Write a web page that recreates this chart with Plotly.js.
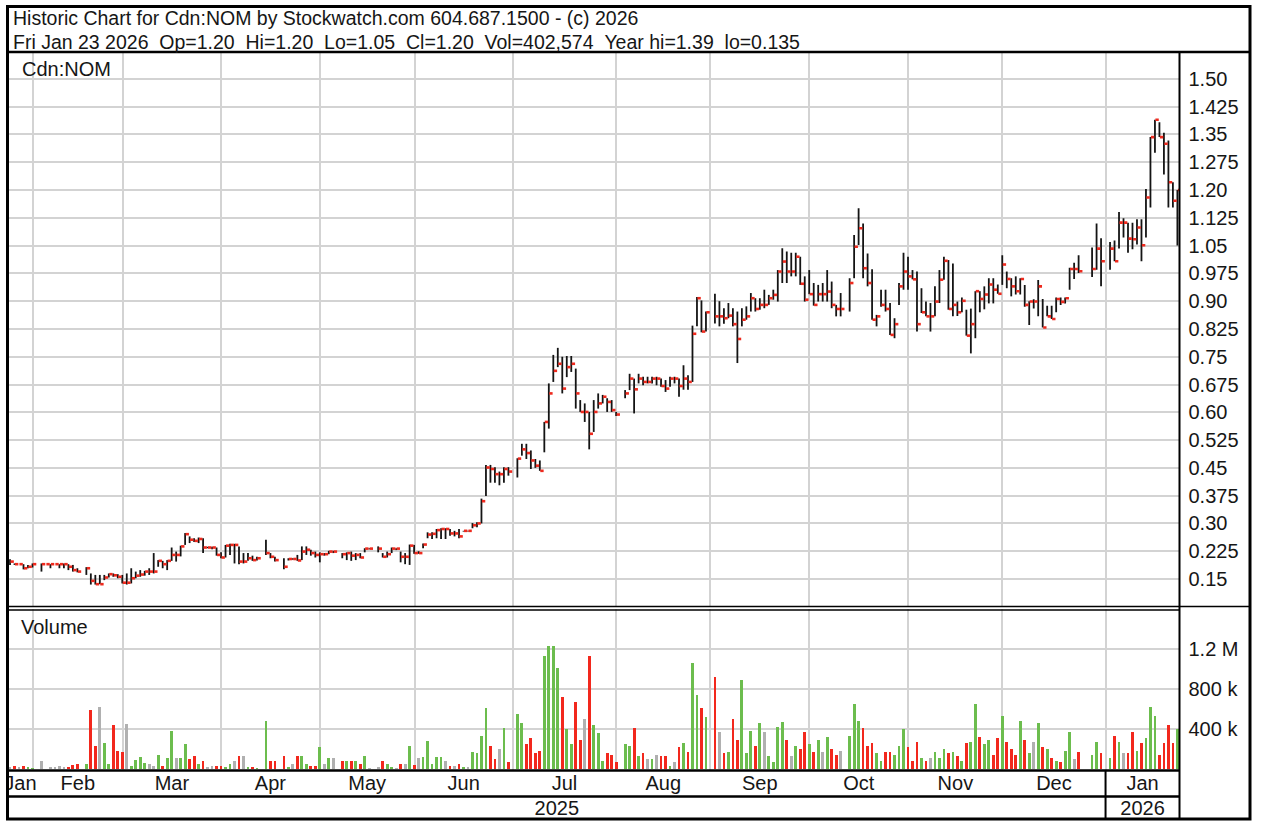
<!DOCTYPE html>
<html><head><meta charset="utf-8">
<script src="https://cdn.plot.ly/plotly-3.0.1.min.js"></script>
<style>html,body{margin:0;padding:0;background:#fff;}#chart{width:1262px;height:824px;}</style>
</head><body><div id="chart"></div>
<script>
// ---------------- data ----------------
const headerLine1 = "Historic Chart for Cdn:NOM by Stockwatch.com 604.687.1500 - (c) 2026";
const headerLine2 = "Fri Jan 23 2026  Op=1.20  Hi=1.20  Lo=1.05  Cl=1.20  Vol=402,574  Year hi=1.39  lo=0.135";
const symbolLabel = "Cdn:NOM";
const volumeLabel = "Volume";
const firstDay = "2025-01-24";
const lastDay = "2026-01-23";
const monthNames = ["Jan","Feb","Mar","Apr","May","Jun","Jul","Aug","Sep","Oct","Nov","Dec"];
const priceTicks = [0.15,0.225,0.30,0.375,0.45,0.525,0.60,0.675,0.75,0.825,0.90,0.975,1.05,1.125,1.20,1.275,1.35,1.425,1.50];
const priceTickText = ["0.15","0.225","0.30","0.375","0.45","0.525","0.60","0.675","0.75","0.825","0.90","0.975","1.05","1.125","1.20","1.275","1.35","1.425","1.50"];
const volTicks = [400000,800000,1200000];
const volTickText = ["400 k","800 k","1.2 M"];

// one entry per weekday (Jan 24 2025 .. Jan 23 2026); null = no trade / holiday
const high = [
 .203,.192,.19,.19,.188,.192,
 null,.192,.19,.19,.19,.19,.192,.19,.188,.179, null,.182,.165,.161,.161,.161,.165,.165,.163,.161,
 .165,.179,.17,.174,.172,.179,.22,.201,.199,.201, .235,.224,.24,.274,.265,.26,.262,.26,.237,.237, .235,
 .222,.242,.245,.245,.238,.22,.22,.213,.21,null, .256,.22,.21,null,.206,.206,.206,.215,.238,.238, .229,.224,
 .222,.22,.226,.226,null,.22,.222,.224,.22,.22, .233,.233,null,.238,.22,.224,.235,.233,.224,.22, .243,.242,
 .225,.246,.276,.276,.285,.287,.287,.285,.28,.285, .28,.28,.301,.303,.367,.458,.458,.452,.44,.452, .452,
 null,.476,.515,.515,.497,.474,.47,.574,.678,.755, .774,.75,.752,.752,.718,.633,.624,.601,.633,.651, .647,.638,.633,
 .601,null,.66,.704,.691,.704,.696,.696,.696,.696, .691,.687,.696,.696,.691,.727,.70,.834,.911,.902, .872,
 null,.92,.90,.881,.895,.881,.872,.881,.886,.922, .908,.908,.931,.917,.931,.984,1.043,1.034,1.031,1.031, 1.02,.967,
 .984,.949,.944,.949,.984,.953,.89,.922,null,.962, 1.079,1.151,1.11,1.029,.986,.863,.931,.931,.895,.854, .949,1.031,1.02,
 .984,.98,.935,.899,.895,.94,.984,1.02,1.011,1.002, .899,.91,.877,.88,.927,.927,.94,.962,.962,.945,
 1.024,.98,.962,.967,.962,.944,.90,.905,.957,.906, .888,.888,.91,.91,.91,.99,1.004,1.024,null,null, 1.045,1.11,1.07,
 null,1.06,1.064,1.141,1.124,1.112,1.112,1.121,1.121,1.203, 1.343,1.39,1.383,1.355,1.334,1.221,1.20
];
const low = [
 .188,.188,.19,.176,.179,.181,
 null,.17,.19,.179,.19,.179,.179,.174,.17,.168, null,.161,.135,.135,.136,.147,.154,.156,.152,.138,
 .135,.138,.152,.156,.159,.161,.165,.183,.179,.174, .199,.197,.211,.242,.247,.25,.247,.22,.233,.23, .213,
 .206,.208,.215,.192,.19,.192,.199,.199,.2,null, .215,.206,.197,null,.176,.2,.202,.199,.201,.215, .213,.208,
 .195,.213,.217,.22,null,.206,.201,.199,.201,.206, .222,.23,null,.222,.208,.208,.22,.228,.195,.19, .188,.218,
 .218,.233,.26,.258,.26,.258,.258,.267,.265,.26, .278,.278,.287,.29,.30,.374,.41,.41,.403,.41, .429,
 null,.424,.483,.474,.447,.45,.442,.492,.556,.682, .722,.651,.695,.709,.61,.601,.574,.50,.547,.61, .624,.601,.601,
 .59,null,.638,.66,.597,.678,.673,.678,.678,.673, .669,.655,.669,.678,.642,.661,.661,.682,.832,.816, .818,
 null,.84,.832,.839,.854,.832,.733,.832,.85,.872, .872,.877,.881,.89,.904,.899,.949,.949,.967,.967, .944,.899,
 .919,.888,.899,.899,.899,.881,.859,.859,null,.872, .962,1.052,.962,.94,.85,.832,.885,.872,.809,.80, .89,.931,.931,
 .959,.818,.868,.859,.818,.859,.895,.958,.877,.859, .86,.87,.807,.759,.80,.87,.878,.894,.894,.92,
 .944,.935,.913,.918,.918,.885,.836,.88,.859,.829, .859,.852,.87,.89,.894,.931,.96,.976,null,null, .965,.985,.94,
 null,.985,1.008,1.042,1.072,1.031,1.04,1.053,1.008,1.072, 1.153,1.301,1.343,1.242,1.153,1.153,1.05
];
const close = [
 .197,.19,.19,.179,.183,.19,
 null,.19,.19,.19,.19,.19,.19,.183,.174,.17, null,.179,.145,.136,.136,.154,.163,.16,.156,.14,
 .14,.152,.159,.162,.17,.17,.17,.199,.19,.199, .215,.215,.238,.271,.256,.253,.258,.235,.235,.235, .215,
 .208,.24,.242,.242,.197,.197,.206,.201,.206,null, .22,.21,.201,null,.183,.204,.204,.2,.224,.229, .22,.215,
 .217,.217,.224,.224,null,.217,.22,.213,.215,.208, .232,.232,null,.232,.21,.217,.232,.232,.21,.21, .24,.22,
 .22,.243,.27,.272,.282,.285,.285,.273,.273,.265, .28,.28,.295,.30,.36,.451,.447,.433,.433,.447, .44,
 null,.475,.50,.49,.47,.456,.442,.574,.651,.712, .731,.664,.722,.731,.651,.601,.601,.542,.601,.624, .642,.628,.606,
 .594,null,.651,.691,.662,.691,.682,.682,.691,.691, .671,.664,.691,.691,.671,.691,.682,.812,.908,.818, .87,
 null,.859,.859,.854,.861,.838,.798,.85,.859,.908, .879,.89,.89,.908,.917,.98,1.007,.98,.98,1.02, .947,.904,
 .919,.89,.919,.919,.926,.89,.879,.879,null,.949, 1.047,1.097,.989,.949,.85,.859,.89,.879,.809,.838, .94,.98,.967,
 .959,.838,.87,.859,.859,.899,.958,1.009,.879,.89, .87,.901,.807,.838,.927,.906,.918,.945,.931,.92,
 .999,.96,.94,.927,.96,.89,.899,.899,.94,.829, .859,.852,.906,.898,.908,.987,.987,.981,null,null, .987,1.042,1.008,
 null,1.042,1.008,1.112,1.112,1.069,1.067,1.099,1.051,1.18, 1.343,1.39,1.343,1.325,1.221,1.171,1.20
];
const volumeK = [
 20,33,23,33,16,6,
 null,77,5,16,23,33,23,23,40,50, null,50,590,230,617,257,50,440,183,170,
 453,35,90,123,63,50,33,137,35,107, 380,107,107,247,97,130,50,83,23,33, 33,
 33,23,50,80,130,130,23,23,10,null, 483,80,80,null,130,16,50,130,130,50, 33,33,
 217,50,107,107,null,77,77,77,77,50, 130,10,null,23,80,50,23,10,50,50, 230,40,
 107,117,283,50,117,117,80,33,33,47, 17,17,167,157,333,607,230,97,200,413, 67,
 null,547,457,247,307,157,183,1130,1233,1233, 1007,723,397,247,667,290,500,1130,440,363, 80,157,140,
 67,null,247,230,413,130,157,97,97,140, 130,130,33,67,217,257,167,1057,740,607, 517,
 null,917,367,157,167,500,290,890,157,380, 230,457,367,130,67,423,467,290,130,230, 200,367,
 247,167,290,167,323,200,140,183,null,333, 647,483,407,230,257,157,80,167,167,140, 230,397,217,
 80,273,107,80,107,167,107,197,157,167, 130,80,257,273,647,323,247,290,140,307,
 530,273,200,140,483,290,157,273,457,217, 200,107,80,67,183,367,97,167,null,null, 140,273,157,
 null,107,333,273,157,157,367,183,257,307, 617,530,140,257,440,257,403
];

// ---------------- styles ----------------
const W = 1262, H = 824;
const FONT = '"Liberation Sans", Arial, sans-serif';
const TXT = '#161616';
const GRID = '#d3d3d3';
const UP = '#6cbd4e', DOWN = '#f2281d', FLAT = '#b0b0b0';
const BARLINE = '#141414', CLOSETICK = '#ee2a1e';
const px = x => x / W, py = y => 1 - y / H;

// weekday calendar (x axis slots)
const days = [];
for (let d = new Date(firstDay + "T00:00:00Z"); d <= new Date(lastDay + "T00:00:00Z"); d.setUTCDate(d.getUTCDate() + 1)) {
  const wd = d.getUTCDay();
  if (wd !== 0 && wd !== 6) days.push(new Date(d.getTime()));
}
const xRange = [-0.45, days.length - 1 + 0.47];

const gridPos = [];
const monthSegs = [];
let segStart = xRange[0];
let yearBoundary = null;
for (let i = 1; i < days.length; i++) {
  if (days[i].getUTCMonth() !== days[i - 1].getUTCMonth()) {
    const pos = days[i].getUTCDate() === 1 ? i : (i - 1) + 0.1;
    gridPos.push(pos);
    monthSegs.push({ m: days[i - 1].getUTCMonth(), a: segStart, b: pos });
    segStart = pos;
    if (days[i].getUTCFullYear() !== days[i - 1].getUTCFullYear()) yearBoundary = pos;
  }
}
monthSegs.push({ m: days[days.length - 1].getUTCMonth(), a: segStart, b: xRange[1] });
const yearSegs = [
  { t: String(days[0].getUTCFullYear()), a: xRange[0], b: yearBoundary },
  { t: String(days[days.length - 1].getUTCFullYear()), a: yearBoundary, b: xRange[1] }
];

// bar geometry built from the data arrays
const hx = [], hy = [], cx = [], cy = [];
for (let i = 0; i < days.length; i++) {
  if (close[i] == null) continue;
  hx.push(i, i, null); hy.push(low[i], high[i], null);
  cx.push(i + 0.1, i + 0.85, null); cy.push(close[i], close[i], null);
}
const vx = [], vy = [], vc = [];
let prev = null;
for (let i = 0; i < days.length; i++) {
  const c = close[i];
  let col = FLAT;
  if (c != null && prev != null) col = c > prev ? UP : (c < prev ? DOWN : FLAT);
  if (c != null) prev = c;
  if (volumeK[i] == null) continue;
  vx.push(i); vy.push(volumeK[i] * 1000); vc.push(col);
}

const traces = [
  { type: 'scatter', mode: 'lines', x: hx, y: hy, xaxis: 'x', yaxis: 'y',
    line: { color: BARLINE, width: 1.8 }, hoverinfo: 'skip', connectgaps: false },
  { type: 'scatter', mode: 'lines', x: cx, y: cy, xaxis: 'x', yaxis: 'y',
    line: { color: CLOSETICK, width: 2.6 }, hoverinfo: 'skip', connectgaps: false },
  { type: 'bar', x: vx, y: vy, xaxis: 'x2', yaxis: 'y2', width: 0.62,
    marker: { color: vc, line: { width: 0 } }, hoverinfo: 'skip' },
  { type: 'scatter', mode: 'text', xaxis: 'x3', yaxis: 'y3', cliponaxis: true,
    x: monthSegs.map(s => (s.a + s.b) / 2), y: monthSegs.map(() => 33),
    text: monthSegs.map(s => monthNames[s.m]),
    textfont: { family: FONT, size: 20, color: TXT }, textposition: 'middle center', hoverinfo: 'skip' },
  { type: 'scatter', mode: 'text', xaxis: 'x3', yaxis: 'y3', cliponaxis: true,
    x: yearSegs.map(s => (s.a + s.b) / 2), y: yearSegs.map(() => 8),
    text: yearSegs.map(s => s.t),
    textfont: { family: FONT, size: 20, color: TXT }, textposition: 'middle center', hoverinfo: 'skip' }
];

const xDomain = [px(8), px(1179.5)];
const baseX = { domain: xDomain, range: xRange, tickvals: gridPos, showticklabels: false, ticks: '',
  showgrid: true, gridcolor: GRID, gridwidth: 2, zeroline: false, showline: false, fixedrange: true };
const L = (x0, y0, x1, y1, w) => ({ type: 'line', xref: 'paper', yref: 'paper', x0: px(x0), y0: py(y0), x1: px(x1), y1: py(y1),
  line: { color: '#000', width: w }, layer: 'above' });

const layout = {
  width: W, height: H, margin: { l: 0, r: 0, t: 0, b: 0 },
  paper_bgcolor: '#fff', plot_bgcolor: '#fff', showlegend: false,
  font: { family: FONT, size: 20, color: TXT },
  bargap: 0,
  xaxis: Object.assign({}, baseX, { anchor: 'y' }),
  yaxis: { domain: [py(606), py(53)], range: [0.0771, 1.570], side: 'right', anchor: 'x',
    tickvals: priceTicks, ticktext: priceTickText, ticks: '', ticklabelstandoff: 8,
    tickfont: { family: FONT, size: 20, color: TXT },
    showgrid: true, gridcolor: GRID, gridwidth: 2, zeroline: false, showline: false, fixedrange: true },
  xaxis2: Object.assign({}, baseX, { anchor: 'y2' }),
  yaxis2: { domain: [py(770), py(609)], range: [-10000, 1600000], side: 'right', anchor: 'x2',
    tickvals: volTicks, ticktext: volTickText, ticks: '', ticklabelstandoff: 8,
    tickfont: { family: FONT, size: 20, color: TXT },
    showgrid: true, gridcolor: GRID, gridwidth: 2, zeroline: false, showline: false, fixedrange: true },
  xaxis3: { domain: xDomain, range: xRange, anchor: 'y3', visible: false, fixedrange: true },
  yaxis3: { domain: [py(818), py(770)], range: [0, 48], anchor: 'x3', visible: false, fixedrange: true },
  shapes: [
    { type: 'rect', xref: 'paper', yref: 'paper', x0: px(7.5), y0: py(6.5), x1: px(1250), y1: py(819),
      line: { color: '#000', width: 3 }, fillcolor: 'rgba(0,0,0,0)', layer: 'above' },
    L(7.5, 52, 1250, 52, 2.5),
    L(7.5, 606.5, 1250, 606.5, 1.6),
    L(7.5, 610, 1179.5, 610, 1.6),
    L(1179.5, 52, 1179.5, 819, 2),
    L(7.5, 770.5, 1179.5, 770.5, 2.5),
    L(7.5, 796.5, 1179.5, 796.5, 2.5),
    { type: 'line', xref: 'x3', yref: 'paper', x0: yearBoundary, x1: yearBoundary, y0: py(770), y1: py(819),
      line: { color: '#000', width: 2 }, layer: 'above' }
  ],
  annotations: [
    { xref: 'paper', yref: 'paper', x: px(11), y: py(18), xanchor: 'left', yanchor: 'middle', showarrow: false,
      text: headerLine1.replace(/ /g, '\u00a0'), font: { family: FONT, size: 19.5, color: TXT } },
    { xref: 'paper', yref: 'paper', x: px(11), y: py(41.5), xanchor: 'left', yanchor: 'middle', showarrow: false,
      text: headerLine2.replace(/ /g, '\u00a0'), font: { family: FONT, size: 19.5, color: TXT } },
    { xref: 'paper', yref: 'paper', x: px(20), y: py(69), xanchor: 'left', yanchor: 'middle', showarrow: false,
      text: symbolLabel, font: { family: FONT, size: 20, color: TXT } },
    { xref: 'paper', yref: 'paper', x: px(19), y: py(627), xanchor: 'left', yanchor: 'middle', showarrow: false,
      text: volumeLabel, font: { family: FONT, size: 20, color: TXT } }
  ]
};

Plotly.newPlot('chart', traces, layout, { displayModeBar: false, staticPlot: true });
</script>
</body></html>
